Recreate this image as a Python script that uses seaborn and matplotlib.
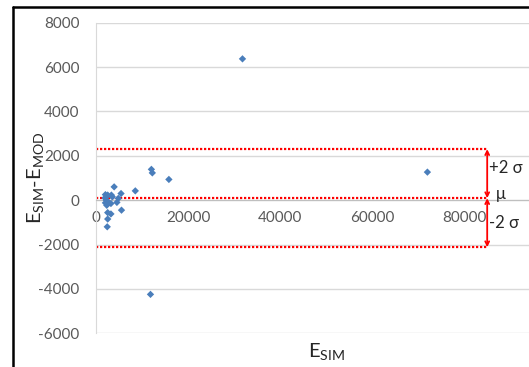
import matplotlib
matplotlib.use('Agg')
import matplotlib.pyplot as plt
import seaborn as sns
import pandas as pd
from matplotlib.lines import Line2D

# 数据
e_sim = [2000, 2500, 3300, 1900, 2200, 2000, 2300, 2600, 3200, 3500,
         3900, 4500, 4800, 5400, 5500, 2500, 3200, 2500, 2400, 8500,
         12000, 12200, 15800, 11800, 31800, 72000]
e_diff = [250, 230, 230, 100, 0, -120, -230, -80, -150, 150,
          600, -100, 80, 300, -450, -560, -620, -850, -1200, 420,
          1390, 1230, 935, -4245, 6370, 1265]
sigma_lines = {'+2 σ': 2300, 'μ': 90, '-2 σ': -2120}
x_ticks = [0, 20000, 40000, 60000, 80000]
y_ticks = [8000, 6000, 4000, 2000, 0, -2000, -4000, -6000]

sns.set_style('white')
plt.rcParams['font.family'] = ['Lato', 'DejaVu Sans']
plt.rcParams['mathtext.default'] = 'regular'
plt.rcParams['axes.unicode_minus'] = False

df = pd.DataFrame({'esim': e_sim, 'diff': e_diff})

W, H = 529, 367
fig = plt.figure(figsize=(W / 100, H / 100), dpi=100)
# 图表右侧被裁掉，所以坐标轴超出画布
ax = fig.add_axes([96.2 / W, (H - 333.3) / H, 460 / W, (333.3 - 22.7) / H])

sns.scatterplot(data=df, x='esim', y='diff', marker='D', s=14,
                color='#4a7ebb', edgecolor='none', ax=ax, zorder=3)

ax.set_xlim(0, 100000)
ax.set_ylim(-6000, 8000)
ax.set_xticks(x_ticks)
ax.set_yticks(y_ticks)
ax.grid(axis='y', color='#d9d9d9', lw=1)
ax.grid(axis='x', visible=False)
for s in ['top', 'right']:
    ax.spines[s].set_visible(False)
ax.spines['left'].set_color('#d9d9d9')
ax.spines['bottom'].set_position(('data', 0))
ax.spines['bottom'].set_color('#bfbfbf')
ax.tick_params(axis='both', length=0, labelsize=11, labelcolor='#595959')
ax.tick_params(axis='y', pad=12)
ax.tick_params(axis='x', pad=8)
ax.set_xlabel('')
ax.set_ylabel('')

# 红色虚线和箭头
x_end = 85000
for lab, val in sigma_lines.items():
    ax.hlines(val, 0, x_end, colors='#ff0000', linestyles=(0, (1, 0.8)), lw=1.6, zorder=2)
ax.annotate('', xy=(x_end, sigma_lines['+2 σ']), xytext=(x_end, sigma_lines['μ']),
            arrowprops=dict(arrowstyle='<->', color='#ff0000', lw=1.3,
                            shrinkA=0, shrinkB=0, mutation_scale=7))
ax.annotate('', xy=(x_end, sigma_lines['μ']), xytext=(x_end, sigma_lines['-2 σ']),
            arrowprops=dict(arrowstyle='<->', color='#ff0000', lw=1.3,
                            shrinkA=0, shrinkB=0, mutation_scale=7))

fig.text(489 / W, 1 - 168 / H, '+2 σ', fontsize=12, color='#262626', va='center', ha='left')
fig.text(496 / W, 1 - 194 / H, 'μ', fontsize=12, color='#262626', va='center', ha='left')
fig.text(489 / W, 1 - 223 / H, '-2 σ', fontsize=12, color='#262626', va='center', ha='left')

fig.text(35 / W, 1 - 178 / H, 'E$_{SIM}$-E$_{MOD}$', rotation=90, fontsize=14.5,
         color='#262626', ha='center', va='center')
fig.text(327 / W, 1 - 352 / H, 'E$_{SIM}$', fontsize=14.5, color='#262626',
         ha='center', va='center')

# 外框
fig.add_artist(Line2D([13 / W, 13 / W], [0, 1 - 7 / H], color='black', lw=1.8,
                      transform=fig.transFigure))
fig.add_artist(Line2D([13 / W, 1], [1 - 7 / H, 1 - 7 / H], color='black', lw=1.8,
                      transform=fig.transFigure))

fig.savefig('out.png', dpi=100)
plt.close()
